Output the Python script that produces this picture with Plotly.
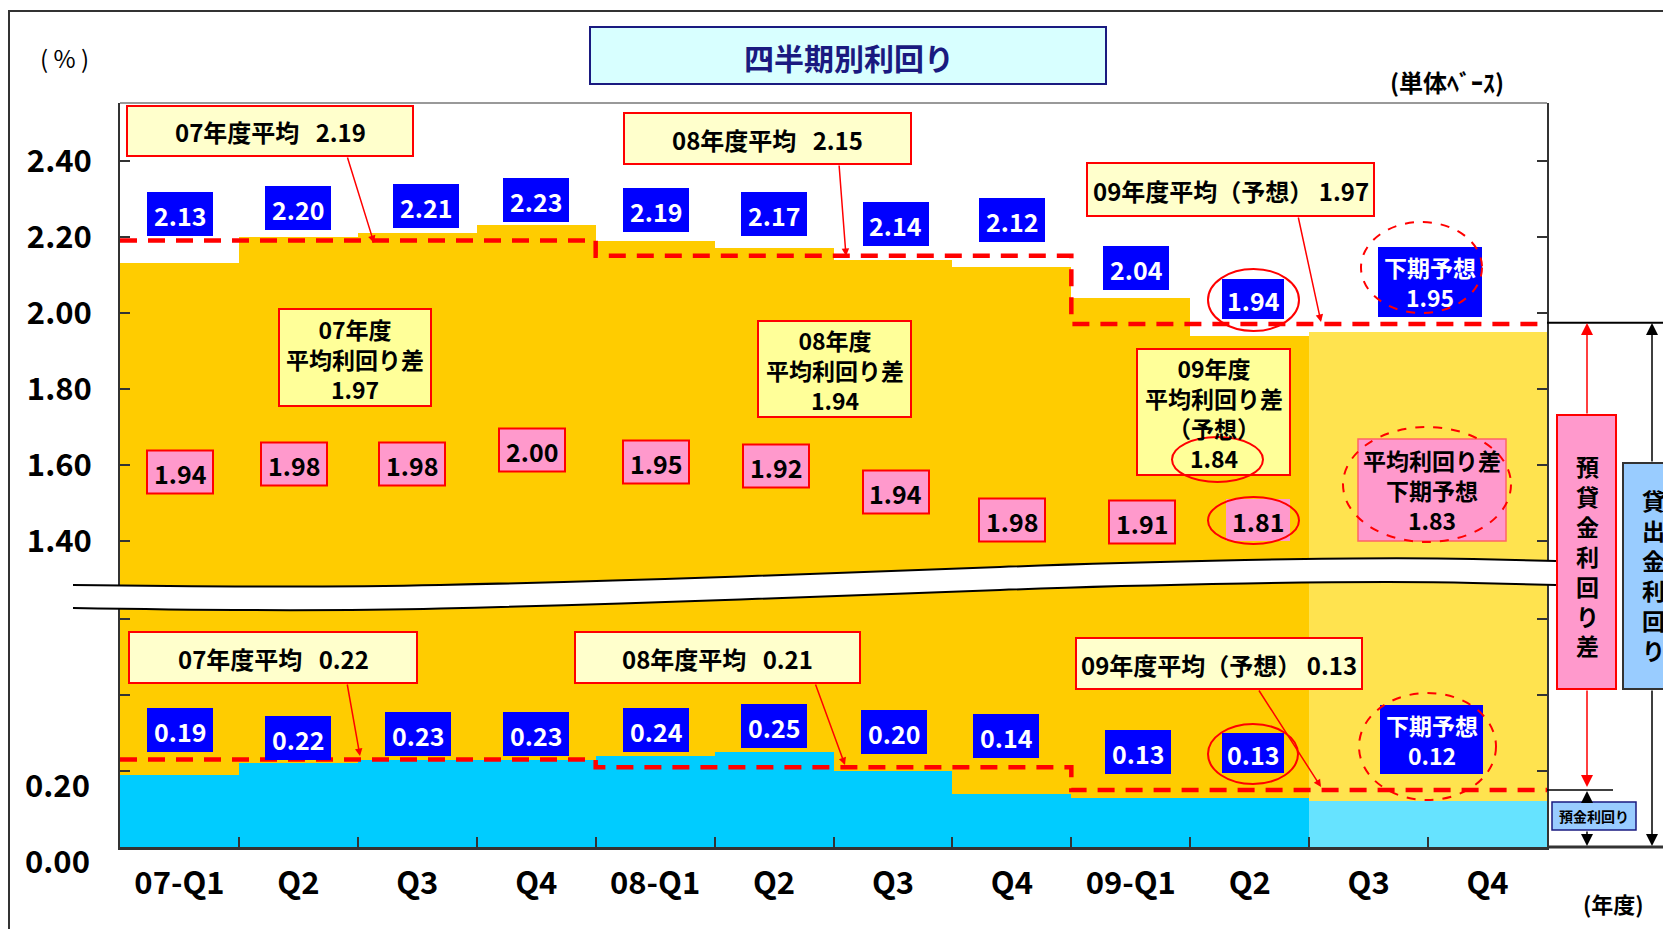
import plotly.graph_objects as go

# ---------------- data ----------------
categories = ["07-Q1", "Q2", "Q3", "Q4", "08-Q1", "Q2", "Q3", "Q4", "09-Q1", "Q2", "Q3", "Q4"]
lending_yield = [2.13, 2.20, 2.21, 2.23, 2.19, 2.17, 2.14, 2.12, 2.04, 1.94, 1.95, 1.95]
deposit_yield = [0.19, 0.22, 0.23, 0.23, 0.24, 0.25, 0.20, 0.14, 0.13, 0.13, 0.12, 0.12]
spread_yield = [1.94, 1.98, 1.98, 2.00, 1.95, 1.92, 1.94, 1.98, 1.91, 1.81]
is_forecast = [False] * 10 + [True, True]
fiscal_years = ["07", "08", "09"]
lending_fy_avg = [2.19, 2.15, 1.97]
deposit_fy_avg = [0.22, 0.21, 0.13]
deposit_avg_line_level = [0.23, 0.21, 0.15]   # where the dashed line is drawn in the picture
spread_fy_avg = [1.97, 1.94, 1.84]
lending_h2_forecast = 1.95
deposit_h2_forecast = 0.12
spread_h2_forecast = 1.83
y_tick_upper = [1.40, 1.60, 1.80, 2.00, 2.20, 2.40]
y_tick_lower = [0.00, 0.20]
y_tick_lower_unlabeled = [0.40, 0.60]

# axis break: upper values are shifted down by this amount
OFFSET = 0.594

FONT = "Noto Sans CJK JP, Noto Sans, sans-serif"
W, H = 1671, 929          # screen size
SHIFT = 8                 # page body margin
L, R, T, B = 120, 1547, 103, 847   # plot area in screen pixels


def PX(x):
    return (x - L) / (R - L)


def PY(y):
    return (B - y) / (B - T)


shapes = []
annotations = []
SP = "&nbsp;&nbsp;&nbsp;"


def rect(x0, y0, x1, y1, fill, line=None, lw=2):
    shapes.append(dict(type="rect", xref="paper", yref="paper", x0=PX(x0), x1=PX(x1),
                       y0=PY(y1), y1=PY(y0), fillcolor=fill,
                       line=dict(color=line or fill, width=lw if line else 0), layer="above"))


def ellipse(x0, y0, x1, y1, dash="solid"):
    shapes.append(dict(type="circle", xref="paper", yref="paper", x0=PX(x0), x1=PX(x1),
                       y0=PY(y1), y1=PY(y0), fillcolor="rgba(0,0,0,0)",
                       line=dict(color="#FF0000", width=2, dash=dash), layer="above"))


def hline(x0, x1, y, color, width):
    shapes.append(dict(type="line", xref="paper", yref="paper", x0=PX(x0), x1=PX(x1),
                       y0=PY(y), y1=PY(y), line=dict(color=color, width=width), layer="above"))


def text(x, y, s, size, color="black", bold=False):
    annotations.append(dict(xref="paper", yref="paper", x=PX(x), y=PY(y),
                            text=("<b>" + s + "</b>") if bold else s, showarrow=False,
                            font=dict(size=size, color=color, family=FONT),
                            xanchor="center", yanchor="middle", align="center"))


def arrow(hx, hy, tx, ty, color="#FF0000", width=1.5, size=1.0):
    annotations.append(dict(xref="paper", yref="paper", x=PX(hx), y=PY(hy),
                            ax=tx - hx, ay=ty - hy, axref="pixel", ayref="pixel",
                            text="", showarrow=True, arrowhead=2, arrowsize=size,
                            arrowwidth=width, arrowcolor=color, standoff=0))


def smooth_path(pts):
    s = f"M {PX(pts[0][0])},{PY(pts[0][1])} "
    for i in range(1, len(pts) - 1):
        mx = (pts[i][0] + pts[i + 1][0]) / 2
        my = (pts[i][1] + pts[i + 1][1]) / 2
        s += f"Q {PX(pts[i][0])},{PY(pts[i][1])} {PX(mx)},{PY(my)} "
    s += f"L {PX(pts[-1][0])},{PY(pts[-1][1])} "
    return s


# ---------------- traces ----------------
xs = list(range(len(categories)))
fig = go.Figure()
fig.add_trace(go.Bar(
    x=xs, y=[v - OFFSET for v in lending_yield], width=1,
    marker=dict(color=["#FFE34F" if f else "#FFCC00" for f in is_forecast], line=dict(width=0)),
    hoverinfo="skip"))
fig.add_trace(go.Bar(
    x=xs, y=deposit_yield, width=1,
    marker=dict(color=["#66E3FF" if f else "#00CCFF" for f in is_forecast], line=dict(width=0)),
    hoverinfo="skip"))

step_x = [-0.5, 3.5, 3.5, 7.5, 7.5, 11.5]
up_y = []
lo_y = []
for a, d in zip(lending_fy_avg, deposit_avg_line_level):
    up_y += [a - OFFSET, a - OFFSET]
    lo_y += [d, d]
for yy in (up_y, lo_y):
    fig.add_trace(go.Scatter(x=step_x, y=yy, mode="lines",
                             line=dict(color="#FF0000", width=4.5, dash="17px,11px"),
                             hoverinfo="skip"))

# ---------------- break band ----------------
top_pts = [(73, 585), (300, 588), (580, 582), (900, 571), (1100, 563), (1390, 557), (1556, 561)]
bot_pts = [(73, 608), (300, 612), (580, 605), (900, 594), (1100, 586), (1390, 581), (1556, 585)]
fill_path = smooth_path(top_pts) + smooth_path(bot_pts[::-1]).replace("M", "L", 1) + "Z"
shapes.append(dict(type="path", xref="paper", yref="paper", path=fill_path,
                   fillcolor="white", line=dict(width=0), layer="above"))
for pts in (top_pts, bot_pts):
    shapes.append(dict(type="path", xref="paper", yref="paper", path=smooth_path(pts),
                       fillcolor="rgba(0,0,0,0)", line=dict(color="black", width=2), layer="above"))

# frame, plot top line, right side lines
shapes.append(dict(type="rect", xref="paper", yref="paper", x0=PX(9), x1=PX(1700),
                   y0=PY(960), y1=PY(11), fillcolor="rgba(0,0,0,0)",
                   line=dict(color="#333333", width=2), layer="above"))
hline(L, R, T, "#999999", 2)
hline(R, 1671, 322.7, "black", 2)
hline(R, 1613, 790, "black", 1.5)
hline(R, 1671, B, "#333333", 3)

# ---------------- title ----------------
rect(590, 27, 1106, 84, "#D8FFFF", "#1A1A80", 2)
text(849, 57, "四半期別利回り", 30, "#1A1A80", True)
text(64, 57, "(&nbsp;%&nbsp;)", 24)
text(1447, 82, "(単体ﾍﾞｰｽ)", 24, bold=True)
text(1614, 903, "(年度)", 22, bold=True)

# lower y labels (placed slightly below their ticks as in the picture)
for v in y_tick_lower:
    annotations.append(dict(xref="paper", yref="y", x=PX(92), y=v, yshift=-12,
                            text=f"<b>{v:.2f}</b>", showarrow=False, xanchor="right",
                            yanchor="middle", font=dict(size=31, color="black", family=FONT)))

# ---------------- value boxes ----------------
lend_box_pos = [(180, 214), (298, 208), (426, 206), (536, 200), (656, 210), (774, 214),
                (896, 224), (1012, 220), (1136, 268), (1253, 299)]
for i, (cx, cy) in enumerate(lend_box_pos):
    hw, hh = (31, 20) if i == 9 else (33, 22)
    rect(cx - hw, cy - hh, cx + hw, cy + hh, "#0000FF")
    text(cx, cy + 1, f"{lending_yield[i]:.2f}", 25, "white", True)

spread_box_pos = [(180, 472), (294, 464), (412, 464), (532, 450), (656, 462), (776, 466),
                  (896, 492), (1012, 520), (1142, 522), (1258, 520)]
for i, (cx, cy) in enumerate(spread_box_pos):
    if i == 9:
        rect(cx - 32, cy - 21, cx + 32, cy + 21, "#FF99CC")
    else:
        rect(cx - 33, cy - 21.5, cx + 33, cy + 21.5, "#FF99CC", "#FF0000", 2)
    text(cx, cy + 1, f"{spread_yield[i]:.2f}", 25, bold=True)

dep_box_pos = [(180, 730), (298, 738), (418, 734), (536, 734), (656, 730), (774, 726),
               (894, 732), (1006, 736), (1138, 752), (1253, 753)]
for i, (cx, cy) in enumerate(dep_box_pos):
    hw, hh = (31, 20) if i == 9 else (33, 22)
    rect(cx - hw, cy - hh, cx + hw, cy + hh, "#0000FF")
    text(cx, cy + 1, f"{deposit_yield[i]:.2f}", 25, "white", True)

# forecast boxes
rect(1378, 247, 1482, 317, "#0000FF")
text(1430, 282, f"下期予想<br>{lending_h2_forecast:.2f}", 23, "white", True)
rect(1358, 439, 1506, 541, "#FF99CC", "#FF6666", 1.5)
text(1432, 490, f"平均利回り差<br>下期予想<br>{spread_h2_forecast:.2f}", 23, bold=True)
rect(1380, 705, 1483, 774, "#0000FF")
text(1432, 740, f"下期予想<br>{deposit_h2_forecast:.2f}", 23, "white", True)

# fiscal year average boxes (lending)
lend_avg_boxes = [(127, 106, 413, 156), (624, 113, 911, 164), (1087, 163, 1374, 216)]
lend_avg_arrows = [((374, 243), (347, 156)), ((846, 256), (839, 164)), ((1321, 322), (1298, 216))]
for k, fy in enumerate(fiscal_years):
    x0, y0, x1, y1 = lend_avg_boxes[k]
    rect(x0, y0, x1, y1, "#FFFFCC", "#FF0000", 2)
    lbl = (f"{fy}年度平均（予想）&nbsp;{lending_fy_avg[k]:.2f}" if k == 2
           else f"{fy}年度平均{SP}{lending_fy_avg[k]:.2f}")
    text((x0 + x1) / 2, (y0 + y1) / 2 + 1, lbl, 24, bold=True)
    (hx, hy), (tx, ty) = lend_avg_arrows[k]
    arrow(hx, hy, tx, ty)

dep_avg_boxes = [(129, 632, 417, 683), (575, 632, 860, 683), (1076, 638, 1362, 689)]
dep_avg_arrows = [((360, 756), (347, 683)), ((845, 765), (815, 683)), ((1321, 787), (1258, 689))]
for k, fy in enumerate(fiscal_years):
    x0, y0, x1, y1 = dep_avg_boxes[k]
    rect(x0, y0, x1, y1, "#FFFFCC", "#FF0000", 2)
    lbl = (f"{fy}年度平均（予想）&nbsp;{deposit_fy_avg[k]:.2f}" if k == 2
           else f"{fy}年度平均{SP}{deposit_fy_avg[k]:.2f}")
    text((x0 + x1) / 2, (y0 + y1) / 2 + 1, lbl, 24, bold=True)
    (hx, hy), (tx, ty) = dep_avg_arrows[k]
    arrow(hx, hy, tx, ty)

spread_avg_boxes = [(279, 309, 431, 406), (758, 321, 911, 417), (1137, 349, 1290, 475)]
for k, fy in enumerate(fiscal_years):
    x0, y0, x1, y1 = spread_avg_boxes[k]
    rect(x0, y0, x1, y1, "#FFFF99", "#FF0000", 2)
    mid = "<br>（予想）" if k == 2 else ""
    text((x0 + x1) / 2, (y0 + y1) / 2 + 1,
         f"{fy}年度<br>平均利回り差{mid}<br>{spread_fy_avg[k]:.2f}", 23, bold=True)

# ellipses
ellipse(1208, 269, 1299, 331)
ellipse(1172, 437, 1263, 482)
ellipse(1208, 497, 1299, 544)
ellipse(1208, 724, 1298, 784)
ellipse(1361, 222, 1482, 313, "dash")
ellipse(1343, 427, 1511, 542, "dash")
ellipse(1359, 693, 1496, 800, "dash")

# ---------------- right side legend-like arrows ----------------
rect(1557, 415, 1616, 689, "#FF99CC", "#FF0000", 2)
text(1587, 555, "<br>".join("預貸金利回り差"), 23, bold=True)
rect(1623, 463, 1690, 689, "#99CCFF", "#333333", 2)
text(1653, 575, "<br>".join("貸出金利回り"), 23, bold=True)
arrow(1587, 323, 1587, 415, "#FF0000", 1.5, 1.6)
arrow(1587, 787, 1587, 689, "#FF0000", 1.5, 1.6)
arrow(1652, 323, 1652, 463, "black", 1.5, 1.6)
arrow(1652, 846, 1652, 689, "black", 1.5, 1.6)
arrow(1587, 791, 1587, 802, "black", 1.5, 1.6)
arrow(1587, 846, 1587, 830, "black", 1.5, 1.6)
rect(1552, 802, 1636, 830, "#99CCFF", "#1A1A80", 1.5)
text(1594, 816, "預金利回り", 14, bold=True)

# ---------------- layout ----------------
y_tickvals = [v - OFFSET for v in y_tick_upper] + y_tick_lower + y_tick_lower_unlabeled
y_ticktext = ([f"<b>{v:.2f}</b>" for v in y_tick_upper] + ["" for _ in y_tick_lower]
              + ["" for _ in y_tick_lower_unlabeled])

fig.update_layout(
    width=W - SHIFT, height=H - SHIFT,
    margin=dict(l=L - SHIFT, r=W - R, t=T - SHIFT, b=H - B, pad=0),
    paper_bgcolor="white", plot_bgcolor="white",
    showlegend=False, barmode="overlay", bargap=0,
    font=dict(family=FONT, color="black"),
    shapes=shapes, annotations=annotations,
    xaxis=dict(range=[-0.5, 11.5], tickmode="array", tickvals=xs,
               ticktext=[f"<b>{c}</b>" for c in categories],
               ticks="", showline=True, linecolor="#333333", linewidth=3,
               showgrid=False, zeroline=False, tickfont=dict(size=31, color="black"),
               ticklabelstandoff=7,
               minor=dict(tickmode="array", tickvals=[i + 0.5 for i in range(11)],
                          ticks="inside", ticklen=10, tickwidth=1.5, tickcolor="#333333",
                          showgrid=False)),
    yaxis=dict(range=[0, (B - T) / 380.0], tickmode="array", tickvals=y_tickvals,
               ticktext=y_ticktext, ticks="inside", ticklen=10, tickwidth=1.5,
               tickcolor="#333333", showline=True, linecolor="#333333", linewidth=2,
               mirror="ticks", showgrid=False, zeroline=False,
               tickfont=dict(size=31, color="black"), ticklabelstandoff=20),
)

fig.write_html("out.html")
